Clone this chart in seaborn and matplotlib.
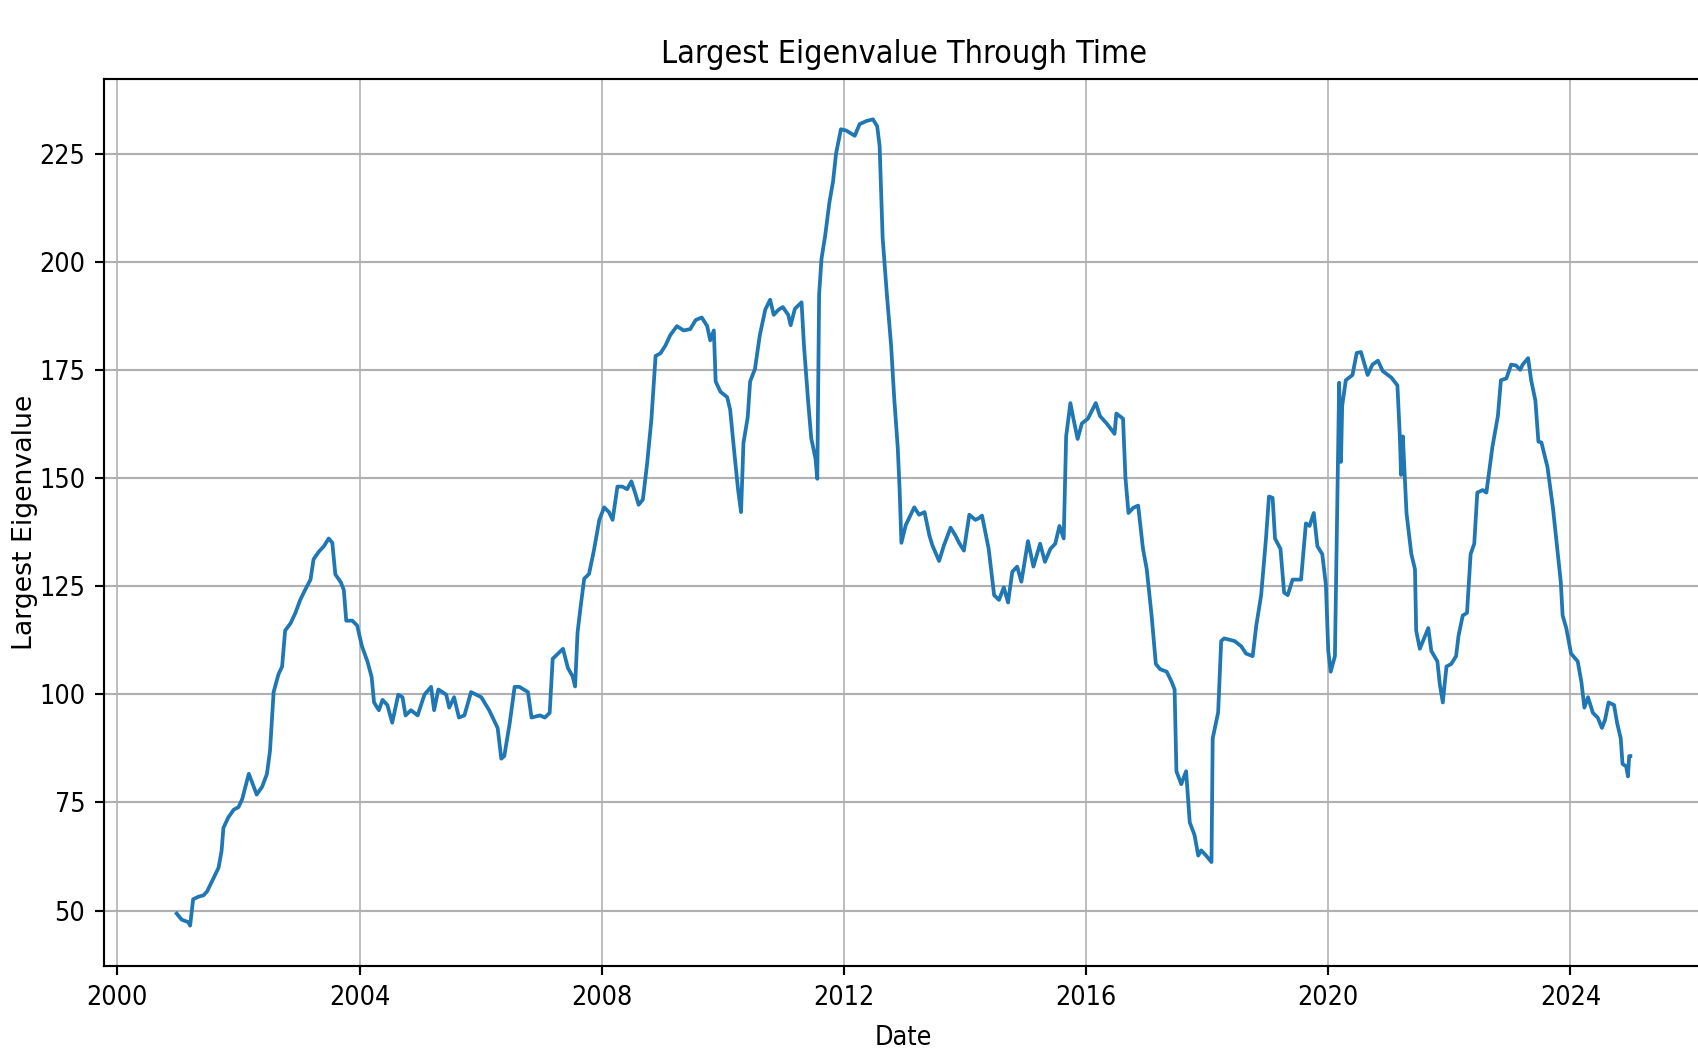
import matplotlib
matplotlib.use("Agg")
import matplotlib.pyplot as plt
from matplotlib import font_manager as fm
import pandas as pd
import seaborn as sns

# Largest eigenvalue of the rolling correlation matrix, sampled by fractional year
year_frac = [
    2000.98, 2001.06, 2001.17, 2001.20, 2001.25, 2001.34, 2001.42, 2001.48, 2001.56, 2001.67,
    2001.72, 2001.75, 2001.83, 2001.92, 2002.00, 2002.06, 2002.17, 2002.22, 2002.30, 2002.39,
    2002.47, 2002.52, 2002.58, 2002.66, 2002.72, 2002.77, 2002.86, 2002.94, 2003.02, 2003.10,
    2003.19, 2003.24, 2003.33, 2003.41, 2003.49, 2003.55, 2003.60, 2003.69, 2003.74, 2003.78,
    2003.88, 2003.96, 2004.04, 2004.13, 2004.20, 2004.24, 2004.32, 2004.38, 2004.46, 2004.54,
    2004.64, 2004.71, 2004.76, 2004.85, 2004.96, 2005.07, 2005.18, 2005.23, 2005.30, 2005.43,
    2005.48, 2005.56, 2005.64, 2005.73, 2005.84, 2006.01, 2006.14, 2006.28, 2006.34, 2006.39,
    2006.48, 2006.56, 2006.64, 2006.78, 2006.84, 2006.98, 2007.06, 2007.14, 2007.19, 2007.28,
    2007.36, 2007.44, 2007.52, 2007.56, 2007.60, 2007.65, 2007.71, 2007.79, 2007.87, 2007.96,
    2008.04, 2008.12, 2008.18, 2008.26, 2008.34, 2008.42, 2008.49, 2008.56, 2008.61, 2008.68,
    2008.75, 2008.82, 2008.89, 2008.97, 2009.05, 2009.13, 2009.24, 2009.35, 2009.46, 2009.55,
    2009.65, 2009.74, 2009.79, 2009.85, 2009.88, 2009.96, 2010.07, 2010.12, 2010.19, 2010.25,
    2010.30, 2010.34, 2010.41, 2010.45, 2010.53, 2010.61, 2010.70, 2010.78, 2010.84, 2010.92,
    2010.99, 2011.08, 2011.12, 2011.19, 2011.30, 2011.34, 2011.41, 2011.46, 2011.53, 2011.56,
    2011.59, 2011.63, 2011.69, 2011.76, 2011.82, 2011.87, 2011.95, 2012.04, 2012.11, 2012.18,
    2012.26, 2012.37, 2012.48, 2012.55, 2012.59, 2012.64, 2012.71, 2012.78, 2012.83, 2012.89,
    2012.92, 2012.95, 2013.02, 2013.16, 2013.24, 2013.33, 2013.41, 2013.46, 2013.57, 2013.65,
    2013.76, 2013.84, 2013.90, 2013.98, 2014.07, 2014.17, 2014.23, 2014.28, 2014.39, 2014.48,
    2014.56, 2014.64, 2014.71, 2014.78, 2014.86, 2014.93, 2015.04, 2015.13, 2015.24, 2015.32,
    2015.41, 2015.49, 2015.56, 2015.63, 2015.67, 2015.74, 2015.79, 2015.86, 2015.93, 2016.03,
    2016.16, 2016.23, 2016.34, 2016.47, 2016.50, 2016.61, 2016.65, 2016.70, 2016.78, 2016.86,
    2016.94, 2017.00, 2017.08, 2017.15, 2017.22, 2017.33, 2017.41, 2017.46, 2017.49, 2017.57,
    2017.65, 2017.71, 2017.79, 2017.85, 2017.90, 2017.98, 2018.07, 2018.09, 2018.18, 2018.23,
    2018.28, 2018.45, 2018.56, 2018.64, 2018.75, 2018.81, 2018.89, 2018.97, 2019.02, 2019.08,
    2019.12, 2019.21, 2019.27, 2019.33, 2019.41, 2019.55, 2019.63, 2019.69, 2019.76, 2019.82,
    2019.90, 2019.96, 2020.00, 2020.04, 2020.11, 2020.15, 2020.18, 2020.21, 2020.23, 2020.29,
    2020.40, 2020.47, 2020.54, 2020.65, 2020.73, 2020.82, 2020.90, 2021.04, 2021.14, 2021.18,
    2021.20, 2021.23, 2021.29, 2021.37, 2021.43, 2021.45, 2021.51, 2021.65, 2021.70, 2021.80,
    2021.84, 2021.89, 2021.95, 2022.03, 2022.11, 2022.15, 2022.22, 2022.29, 2022.35, 2022.41,
    2022.46, 2022.55, 2022.61, 2022.66, 2022.71, 2022.80, 2022.85, 2022.94, 2023.02, 2023.10,
    2023.17, 2023.21, 2023.30, 2023.35, 2023.42, 2023.47, 2023.52, 2023.62, 2023.71, 2023.79,
    2023.84, 2023.87, 2023.93, 2024.01, 2024.12, 2024.18, 2024.23, 2024.29, 2024.37, 2024.45,
    2024.52, 2024.57, 2024.63, 2024.72, 2024.77, 2024.83, 2024.86, 2024.92, 2024.95, 2024.97,
    2024.99,
]

eigenvalue = [
    49.3, 47.9, 47.3, 46.5, 52.6, 53.2, 53.5, 54.4, 56.7, 59.9,
    63.8, 69.1, 71.5, 73.3, 73.9, 75.7, 81.6, 79.8, 76.8, 78.6,
    81.6, 86.9, 100.5, 104.6, 106.4, 114.7, 116.4, 118.8, 121.8, 124.1,
    126.5, 131.2, 133.0, 134.2, 136.0, 135.0, 127.7, 125.9, 124.1, 117.0,
    117.0, 115.9, 111.1, 107.6, 104.0, 98.1, 96.3, 98.7, 97.5, 93.4,
    99.9, 99.3, 95.1, 96.3, 95.1, 99.9, 101.7, 96.3, 101.1, 99.9,
    96.9, 99.3, 94.6, 95.1, 100.5, 99.3, 96.3, 92.2, 85.1, 85.7,
    93.4, 101.7, 101.7, 100.5, 94.6, 95.1, 94.6, 95.7, 108.2, 109.4,
    110.5, 106.1, 104.1, 101.8, 114.2, 120.1, 126.7, 127.8, 133.2, 140.3,
    143.2, 142.1, 140.3, 148.0, 148.0, 147.4, 149.2, 146.2, 143.8, 145.0,
    153.3, 163.4, 178.2, 178.8, 180.6, 183.0, 185.1, 184.1, 184.4, 186.5,
    187.1, 185.1, 181.8, 184.1, 172.3, 169.9, 168.7, 165.8, 155.7, 147.4,
    142.1, 158.1, 164.0, 172.3, 175.2, 183.0, 188.9, 191.2, 187.7, 188.9,
    189.5, 187.7, 185.3, 189.1, 190.6, 180.6, 167.5, 159.2, 154.5, 149.8,
    192.4, 200.7, 206.0, 213.7, 218.5, 225.0, 230.6, 230.3, 229.7, 229.1,
    231.8, 232.5, 232.9, 231.3, 226.8, 205.5, 192.4, 180.6, 168.7, 156.9,
    147.4, 135.0, 139.1, 143.2, 141.5, 142.1, 136.7, 134.4, 130.8, 134.4,
    138.5, 136.7, 135.0, 133.2, 141.5, 140.3, 140.7, 141.3, 133.6, 122.9,
    121.8, 124.7, 121.2, 128.3, 129.5, 126.0, 135.4, 129.5, 134.8, 130.6,
    133.6, 134.8, 138.9, 136.0, 159.6, 167.3, 163.7, 159.0, 162.6, 163.7,
    167.3, 164.3, 162.6, 160.2, 164.9, 163.7, 150.1, 141.9, 143.1, 143.6,
    133.6, 128.9, 118.2, 107.0, 105.8, 105.2, 102.9, 101.1, 82.2, 79.2,
    82.2, 70.4, 67.4, 62.7, 63.9, 62.7, 61.2, 89.8, 95.8, 112.3,
    112.9, 112.3, 111.1, 109.4, 108.8, 115.9, 122.9, 136.0, 145.7, 145.4,
    136.0, 133.6, 123.5, 122.9, 126.5, 126.5, 139.5, 138.9, 141.9, 134.2,
    132.4, 125.3, 110.0, 105.2, 108.8, 145.4, 172.0, 153.7, 166.7, 172.6,
    173.8, 178.9, 179.1, 173.8, 176.2, 177.1, 174.7, 173.2, 171.4, 159.6,
    150.7, 159.6, 141.9, 132.4, 128.9, 114.7, 110.5, 115.3, 110.0, 107.6,
    102.3, 98.1, 106.4, 107.0, 108.8, 113.5, 118.2, 118.8, 132.4, 134.8,
    146.6, 147.2, 146.6, 151.9, 157.2, 164.3, 172.6, 173.0, 176.2, 176.0,
    175.0, 176.2, 177.7, 172.6, 167.9, 158.4, 158.2, 152.5, 143.1, 132.4,
    125.9, 118.2, 115.3, 109.4, 107.6, 102.9, 96.9, 99.3, 95.7, 94.6,
    92.2, 94.0, 98.1, 97.5, 93.4, 89.8, 83.9, 83.3, 81.0, 85.7,
    85.7,
]


def to_timestamp(y):
    year = int(y)
    start = pd.Timestamp(year=year, month=1, day=1)
    return start + pd.Timedelta(days=(y - year) * 365.25)


df = pd.DataFrame({
    "Date": [to_timestamp(y) for y in year_frac],
    "Largest Eigenvalue": eigenvalue,
})


def narrow_font():
    entries = fm.fontManager.ttflist
    for f in entries:
        if f.name in ("DejaVu Sans", "DejaVu Sans Condensed") and str(f.stretch) == "condensed":
            return f.name, "condensed"
    names = {f.name for f in entries}
    if "DejaVu Sans Condensed" in names:
        return "DejaVu Sans Condensed", "normal"
    if "Liberation Sans Narrow" in names:
        return "Liberation Sans Narrow", "normal"
    return "DejaVu Sans", "normal"


S = 1.93  # point scaling for a 100 dpi canvas
narrow_family, narrow_stretch = narrow_font()

plt.rcParams["font.family"] = [narrow_family, "DejaVu Sans"]
plt.rcParams["font.stretch"] = narrow_stretch

fig = plt.figure(figsize=(16.99, 10.55), dpi=100)
ax = fig.add_axes([0.0612, 0.0844, 0.9412, 0.8407])

sns.lineplot(data=df, x="Date", y="Largest Eigenvalue", ax=ax,
             color="#1f77b4", linewidth=1.4 * S)

ax.set_title("Largest Eigenvalue Through Time", fontsize=12 * S, pad=6 * S)
ax.set_xlabel("Date", fontsize=10 * S, labelpad=5.5 * S)
ax.set_ylabel("Largest Eigenvalue", fontsize=10 * S, labelpad=0.5,
              family="DejaVu Sans", fontstretch="normal")

ax.set_yticks([50, 75, 100, 125, 150, 175, 200, 225])
ax.tick_params(labelsize=10 * S, length=3.5 * S, width=0.8 * S, pad=3.5 * S)
ax.yaxis.grid(True, color="#b0b0b0", linewidth=0.8 * S)
ax.xaxis.grid(True, color="#b0b0b0", linewidth=0.6 * S)
ax.set_axisbelow(True)
for sp in ax.spines.values():
    sp.set_linewidth(0.8 * S)

fig.savefig("out.png", dpi=100)
